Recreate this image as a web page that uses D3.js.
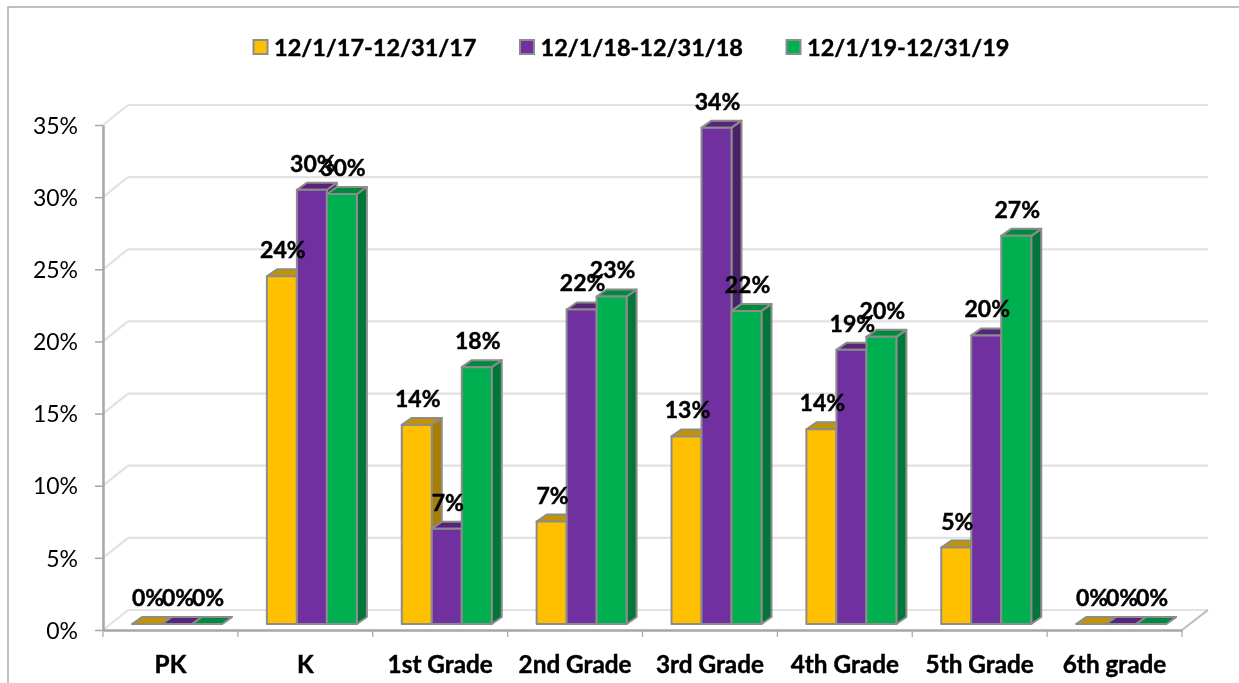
<!DOCTYPE html>
<html>
<head>
<meta charset="utf-8">
<script src="https://d3js.org/d3.v7.min.js"></script>
<style>
  html, body { margin: 0; background: #fff; }
  svg { display: block; filter: blur(0.5px); font-family: Lato, sans-serif; }
  .axis text { fill: #000; }
  .axis path, .axis line { stroke: #a6a6a6; }
  .heavy { stroke: #000; stroke-width: 0.45px; }
</style>
</head>
<body>
<svg id="chart" width="1239" height="683"></svg>
<script>
// data
var categories = ["PK", "K", "1st Grade", "2nd Grade", "3rd Grade", "4th Grade", "5th Grade", "6th grade"];
var seriesNames = ["12/1/17-12/31/17", "12/1/18-12/31/18", "12/1/19-12/31/19"];
var values2017 = [0, 24.1, 13.8, 7.1, 13.0, 13.5, 5.3, 0];
var values2018 = [0, 30.1, 6.6, 21.8, 34.4, 19.0, 20.0, 0];
var values2019 = [0, 29.8, 17.8, 22.7, 21.7, 19.9, 26.9, 0];
var yTicks = [0, 5, 10, 15, 20, 25, 30, 35];

var frontColors = ["#ffc000", "#7030a0", "#00b050"];
var topColors = ["#c39300", "#56257b", "#008a3e"];
var sideColors = ["#a87f00", "#4a206b", "#00763a"];

var svg = d3.select("#chart");

// 3d offsets
var wallDx = 25, wallDy = -20;   // front of floor to back wall
var depthDx = 10, depthDy = -7;  // bar depth
var baseDy = -6;                 // bars stand a little behind the front edge

var x = d3.scaleBand().domain(categories).range([103, 1182]);
var xInner = d3.scaleBand().domain(d3.range(seriesNames.length)).range([29, 119]);
var y = d3.scaleLinear().domain([0, 35]).range([630, 125]);

// frame of the chart, only top and left show
svg.append("path")
   .attr("d", "M8,683V7H1239")
   .attr("fill", "none")
   .attr("stroke", "#ababab")
   .attr("stroke-width", 1.5);

// legend
var legendX = d3.scalePoint().domain(d3.range(seriesNames.length)).range([253, 786]);
var legend = svg.selectAll("g.legend")
   .data(seriesNames)
   .enter()
   .append("g")
   .attr("class", "legend")
   .attr("transform", function(d, i){ return "translate(" + legendX(i) + ",0)"; });
legend.append("rect")
   .attr("x", 0.5).attr("y", 40)
   .attr("width", 14).attr("height", 14)
   .attr("fill", function(d, i){ return frontColors[i]; })
   .attr("stroke", "#8c8c8c")
   .attr("stroke-width", 2);
legend.append("text")
   .attr("class", "heavy")
   .attr("x", 21).attr("y", 56)
   .attr("font-size", 23.5)
   .attr("font-weight", 700)
   .text(function(d){ return d; });

// gridlines on the back wall and the side wall
var grid = svg.append("g");
grid.selectAll("line.back")
   .data(yTicks)
   .enter()
   .append("line")
   .attr("class", "back")
   .attr("x1", x.range()[0] + wallDx)
   .attr("x2", x.range()[1] + wallDx + 1)
   .attr("y1", function(d){ return y(d) + wallDy; })
   .attr("y2", function(d){ return y(d) + wallDy; })
   .attr("stroke", "#e2e2e2")
   .attr("stroke-width", 2.2);
grid.selectAll("line.side")
   .data(yTicks)
   .enter()
   .append("line")
   .attr("class", "side")
   .attr("x1", x.range()[0])
   .attr("x2", x.range()[0] + wallDx)
   .attr("y1", function(d){ return y(d); })
   .attr("y2", function(d){ return y(d) + wallDy; })
   .attr("stroke", "#e2e2e2")
   .attr("stroke-width", 2.2);
// right edge of the floor
svg.append("line")
   .attr("x1", x.range()[1]).attr("y1", y(0))
   .attr("x2", x.range()[1] + wallDx + 1).attr("y2", y(0) + wallDy)
   .attr("stroke", "#bdbdbd")
   .attr("stroke-width", 2.2);

// axes
var yAxis = d3.axisLeft(y)
   .tickValues(yTicks)
   .tickSize(8)
   .tickSizeOuter(0)
   .tickFormat(function(d){ return d + "%"; });
var gy = svg.append("g")
   .attr("class", "axis")
   .attr("transform", "translate(" + x.range()[0] + ",0)")
   .call(yAxis);
gy.selectAll("text")
   .attr("font-size", 23)
   .attr("font-family", "Lato, sans-serif")
   .attr("x", -25)
   .attr("dy", "0.36em");
gy.select("path").attr("stroke-width", 2.5);
gy.selectAll("line").attr("stroke-width", 1.5);

var xAxis = d3.axisBottom(x)
   .tickSize(0)
   .tickSizeOuter(0);
var gx = svg.append("g")
   .attr("class", "axis")
   .attr("transform", "translate(0," + y(0) + ")")
   .call(xAxis);
gx.select("path").attr("stroke-width", 2.5);
gx.selectAll("text")
   .attr("class", "heavy")
   .attr("font-size", 24.3)
   .attr("font-family", "Lato, sans-serif")
   .attr("font-weight", 700)
   .attr("y", 26)
   .attr("dy", "0.71em");
// tick marks between the categories
gx.selectAll("line.sep")
   .data(categories.concat(["end"]))
   .enter()
   .append("line")
   .attr("class", "sep")
   .attr("x1", function(d, i){ return x.range()[0] + i * x.bandwidth(); })
   .attr("x2", function(d, i){ return x.range()[0] + i * x.bandwidth(); })
   .attr("y1", 0)
   .attr("y2", 7)
   .attr("stroke-width", 1.2);

// bars, series by series inside each category so the overlap is right
var seriesValues = [values2017, values2018, values2019];
var barData = [];
categories.forEach(function(c, ci){
   seriesValues.forEach(function(vals, si){
      barData.push({cat: c, series: si, value: vals[ci]});
   });
});

function barLeft(d){ return x(d.cat) + xInner(d.series); }
function barTop(d){ return y(d.value) + baseDy; }
var barW = xInner.bandwidth();
var barBase = y(0) + baseDy;

var bars = svg.selectAll("g.bar")
   .data(barData)
   .enter()
   .append("g")
   .attr("class", "bar")
   .attr("stroke", "#8c8c8c")
   .attr("stroke-width", 2)
   .attr("stroke-linejoin", "round");

// side face
bars.append("path")
   .attr("fill", function(d){ return sideColors[d.series]; })
   .attr("d", function(d){
      var r = barLeft(d) + barW, t = barTop(d);
      return "M" + r + "," + t + "L" + (r + depthDx) + "," + (t + depthDy) +
             "V" + (barBase + depthDy) + "L" + r + "," + barBase + "Z";
   });
// top face
bars.append("path")
   .attr("fill", function(d){ return topColors[d.series]; })
   .attr("d", function(d){
      var l = barLeft(d), t = barTop(d);
      return "M" + l + "," + t + "L" + (l + depthDx) + "," + (t + depthDy) +
             "H" + (l + barW + depthDx) + "L" + (l + barW) + "," + t + "Z";
   });
// front face
bars.append("rect")
   .attr("x", barLeft)
   .attr("y", barTop)
   .attr("width", barW)
   .attr("height", function(d){ return barBase - barTop(d); })
   .attr("fill", function(d){ return frontColors[d.series]; });

// value labels go over everything
svg.selectAll("text.val")
   .data(barData)
   .enter()
   .append("text")
   .attr("class", "val heavy")
   .attr("x", function(d){ return barLeft(d) + barW / 2 + 1; })
   .attr("y", function(d){ return barTop(d) - 18; })
   .attr("text-anchor", "middle")
   .attr("font-size", 23)
   .attr("font-weight", 700)
   .attr("fill", "#000")
   .text(function(d){ return Math.round(d.value) + "%"; });
</script>
</body>
</html>
